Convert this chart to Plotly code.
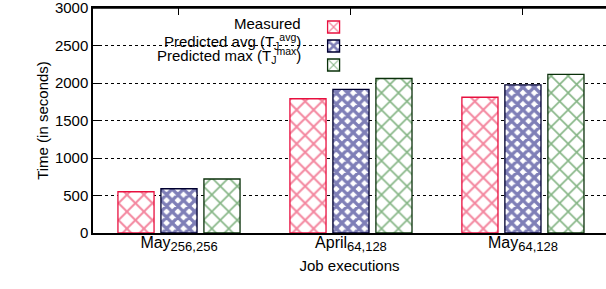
import plotly.graph_objects as go

categories = ["May<sub><span style='font-size:13px'>256,256</span></sub>",
              "April<sub><span style='font-size:13px'>64,128</span></sub>",
              "May<sub><span style='font-size:13px'>64,128</span></sub>"]
series_names = ["Measured", "Predicted avg (T<sub>J</sub><sup>avg</sup>)", "Predicted max (T<sub>J</sub><sup>max</sup>)"]
measured = [550, 1790, 1810]
pred_avg = [590, 1915, 1975]
pred_max = [720, 2060, 2115]
y_ticks = [0, 500, 1000, 1500, 2000, 2500, 3000]

FONT = "Liberation Sans, Arial, sans-serif"
styles = [
    dict(fg="#e8103f", line="#e8103f", shape="x", size=12, sol=0.3),
    dict(fg="#000070", line="#000030", shape="x", size=8, sol=0.65),
    dict(fg="#0b6b0b", line="#0a300a", shape="x", size=12, sol=0.25),
]

fig = go.Figure()
for vals, st in zip([measured, pred_avg, pred_max], styles):
    fig.add_trace(go.Bar(
        x=categories, y=vals, name=" ",
        marker=dict(color="white",
                    line=dict(color=st["line"], width=1.3),
                    pattern=dict(shape=st["shape"], fgcolor=st["fg"], bgcolor="white",
                                 size=st["size"], solidity=st["sol"], fillmode="overlay")),
    ))

fig.update_layout(
    width=606, height=289,
    margin=dict(l=93, r=0, t=8, b=56, autoexpand=False),
    plot_bgcolor="white", paper_bgcolor="white",
    barmode="group", bargap=0.25, bargroupgap=0.16,
    font=dict(family=FONT, size=15, color="black"),
    showlegend=True,
    legend=dict(x=0.43, y=0.98, xanchor="left", yanchor="top",
                bgcolor="rgba(0,0,0,0)", font=dict(size=8),
                tracegroupgap=0, itemwidth=30),
    xaxis=dict(type="category", range=[-0.5, 2.483], showline=True, linecolor="black",
               linewidth=1.5, ticks="inside", ticklen=7, tickcolor="black",
               mirror="ticks", layer="below traces", showgrid=False,
               tickfont=dict(size=16), automargin=False,
               title=dict(text="Job executions", font=dict(size=15), standoff=7)),
    yaxis=dict(range=[0, 3000], tickmode="array", tickvals=y_ticks, ticks="inside", ticklen=7,
               tickcolor="black", showline=True, linecolor="black", linewidth=1.5,
               showgrid=True, gridcolor="black", gridwidth=1, griddash="dot",
               zeroline=False, tickfont=dict(size=15), automargin=False,
               ticklabeloverflow="allow",
               title=dict(text="Time (in seconds)", font=dict(size=15), standoff=3)),
)
try:
    fig.update_xaxes(ticklabelstandoff=-6)
except Exception:
    pass

# opaque legend area covering the grid
fig.add_shape(type="rect", xref="paper", yref="paper", x0=0.004, x1=0.536, y0=0.75, y1=0.93,
              fillcolor="white", line=dict(width=0), layer="between")
# top frame line of the plot area
fig.add_shape(type="line", xref="paper", yref="paper", x0=0, x1=1, y0=1, y1=1,
              line=dict(color="black", width=1.5), layer="above")

rows_y = [0.929, 0.853, 0.787]
for name, yy in zip(series_names, rows_y):
    fig.add_annotation(text=name, xref="paper", yref="paper", x=0.41, y=yy,
                       xanchor="right", yanchor="middle", showarrow=False,
                       font=dict(size=15, family=FONT))

fig.write_html("out.html", config={"displayModeBar": False},
               post_script="document.body.style.margin='0';document.body.style.overflow='hidden';")
